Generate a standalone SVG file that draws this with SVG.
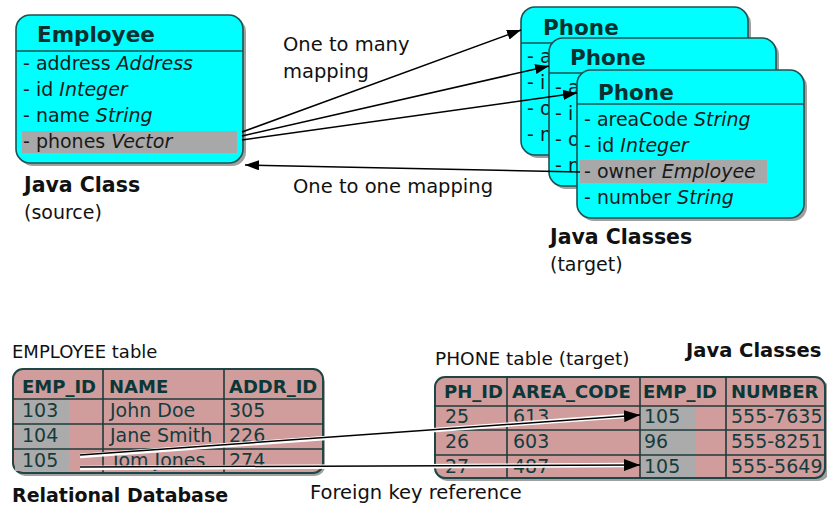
<svg xmlns="http://www.w3.org/2000/svg" width="827" height="508" viewBox="0 0 827 508">
<defs>
<style>
text{font-family:"DejaVu Sans","Liberation Sans",sans-serif;}
.box{fill:#00FFFF;stroke:#1E5252;stroke-width:1.6;}
.shadow{fill:#A0A0A0;}
.hl{fill:#A8A8A8;}
.sep{stroke:#1E5252;stroke-width:1.5;}
.title{font-size:21.5px;font-weight:bold;fill:#0A3030;}
.row{font-size:19px;fill:#1A1A1A;}
.lbl{font-size:19.5px;fill:#111;}
.cap{font-size:20.5px;font-weight:bold;fill:#111;}
.tbl{fill:#D09C9C;stroke:#1E4646;stroke-width:2;}
.grid{stroke:#1E3A3A;stroke-width:1.6;}
.th{font-size:18px;font-weight:bold;fill:#0A3838;}
.td{font-size:19px;fill:#153C3C;}
.gray{fill:#ABABAB;}
.ln{fill:none;stroke:#000;stroke-width:1.5;}
.halo{fill:none;stroke:#fff;stroke-width:4.5;}
</style>
<marker id="ah" viewBox="0 0 14 10" refX="14" refY="5" markerWidth="14" markerHeight="10" markerUnits="userSpaceOnUse" orient="auto">
<path d="M0,0 L14,5 L0,10 z" fill="#000"/>
</marker>
<marker id="ahb" viewBox="0 0 16 12" refX="16" refY="6" markerWidth="16" markerHeight="12" markerUnits="userSpaceOnUse" orient="auto">
<path d="M0,0 L16,6 L0,12 z" fill="#000"/>
</marker>
</defs>
<rect width="827" height="508" fill="#fff"/>

<g id="employee-class">
<rect class="shadow" x="19" y="18" width="227" height="148" rx="14"/>
<rect class="box" x="16" y="15" width="227" height="148" rx="14"/>
<line class="sep" x1="16" y1="51" x2="243" y2="51"/>
<rect class="hl" x="22" y="131" width="215" height="22"/>
<text class="title" x="37" y="42">Employee</text>
<text class="row" x="23" y="70">- address <tspan font-style="italic">Address</tspan></text>
<text class="row" x="23" y="96">- id <tspan font-style="italic">Integer</tspan></text>
<text class="row" x="23" y="122">- name <tspan font-style="italic">String</tspan></text>
<text class="row" x="23" y="148">- phones <tspan font-style="italic">Vector</tspan></text>
</g>
<g id="java-class-label">
<text class="cap" x="24" y="192">Java Class</text>
<text class="lbl" x="24" y="219" style="font-size:19px">(source)</text>
</g>

<g id="phone-class-1">
<rect class="shadow" x="524" y="10" width="227" height="148" rx="14"/>
<rect class="box" x="521" y="7" width="227" height="148" rx="14"/>
<line class="sep" x1="521" y1="43" x2="748" y2="43"/>
<text class="title" x="543" y="35">Phone</text>
<text class="row" x="527" y="63">- a</text>
<text class="row" x="527" y="89">- i</text>
<text class="row" x="527" y="115">- o</text>
<text class="row" x="527" y="141">- n</text>
</g>
<g id="phone-class-2">
<rect class="shadow" x="552" y="41" width="227" height="148" rx="14"/>
<rect class="box" x="549" y="38" width="227" height="148" rx="14"/>
<line class="sep" x1="549" y1="73" x2="776" y2="73"/>
<text class="title" x="570" y="65">Phone</text>
<text class="row" x="555" y="94">- a</text>
<text class="row" x="555" y="120">- i</text>
<text class="row" x="555" y="146">- o</text>
<text class="row" x="555" y="172">- n</text>
</g>
<g id="phone-class-3">
<rect class="shadow" x="580" y="73" width="227" height="148" rx="14"/>
<rect class="box" x="577" y="70" width="227" height="148" rx="14"/>
<line class="sep" x1="577" y1="104" x2="804" y2="104"/>
<rect class="hl" x="580" y="160" width="187" height="23"/>
<text class="title" x="598" y="100">Phone</text>
<text class="row" x="584" y="126">- areaCode <tspan font-style="italic">String</tspan></text>
<text class="row" x="584" y="152">- id <tspan font-style="italic">Integer</tspan></text>
<text class="row" x="584" y="178">- owner <tspan font-style="italic">Employee</tspan></text>
<text class="row" x="584" y="204">- number <tspan font-style="italic">String</tspan></text>
</g>
<g id="java-classes-label">
<text class="cap" x="550" y="244">Java Classes</text>
<text class="lbl" x="550" y="271" style="font-size:19px">(target)</text>
</g>

<g id="mapping-labels">
<text class="lbl" x="283" y="51">One to many</text>
<text class="lbl" x="283" y="78">mapping</text>
<text class="lbl" x="293" y="193">One to one mapping</text>
</g>

<g id="java-classes-label-2">
<text class="cap" x="686" y="357" style="font-size:19.5px">Java Classes</text>
</g>

<g id="employee-table">
<text class="lbl" x="12" y="358" style="font-size:18px">EMPLOYEE table</text>
<rect class="shadow" x="15" y="372" width="310" height="104" rx="10"/>
<rect class="tbl" x="13" y="369" width="310" height="104" rx="10"/>
<rect class="gray" x="15" y="400" width="54" height="71"/>
<line class="grid" x1="103" y1="369" x2="103" y2="473"/>
<line class="grid" x1="224" y1="369" x2="224" y2="473"/>
<line class="grid" x1="13" y1="399" x2="323" y2="399"/>
<line class="grid" x1="13" y1="424" x2="323" y2="424"/>
<line class="grid" x1="13" y1="449" x2="323" y2="449"/>
<text class="th" x="22" y="393">EMP_ID</text>
<text class="th" x="109" y="393">NAME</text>
<text class="th" x="229" y="393">ADDR_ID</text>
<text class="td" x="22" y="417">103</text>
<text class="td" x="110" y="417">John Doe</text>
<text class="td" x="229" y="417">305</text>
<text class="td" x="22" y="442">104</text>
<text class="td" x="110" y="442">Jane Smith</text>
<text class="td" x="229" y="442">226</text>
<text class="td" x="22" y="467">105</text>
<text class="td" x="110" y="467">Tom Jones</text>
<text class="td" x="229" y="467">274</text>
</g>

<g id="phone-table">
<text class="lbl" x="435" y="365" style="font-size:18.5px">PHONE table (target)</text>
<rect class="shadow" x="437" y="380" width="392" height="101" rx="10"/>
<rect class="tbl" x="435" y="377" width="390" height="101" rx="10"/>
<rect class="gray" x="641" y="407" width="54" height="70"/>
<line class="grid" x1="507" y1="377" x2="507" y2="478"/>
<line class="grid" x1="640" y1="377" x2="640" y2="478"/>
<line class="grid" x1="726" y1="377" x2="726" y2="478"/>
<line class="grid" x1="435" y1="406" x2="825" y2="406"/>
<line class="grid" x1="435" y1="430" x2="825" y2="430"/>
<line class="grid" x1="435" y1="455" x2="825" y2="455"/>
<text class="th" x="444" y="398">PH_ID</text>
<text class="th" x="512" y="398">AREA_CODE</text>
<text class="th" x="643" y="398">EMP_ID</text>
<text class="th" x="731" y="398">NUMBER</text>
<text class="td" x="445" y="423">25</text>
<text class="td" x="513" y="423">613</text>
<text class="td" x="644" y="423">105</text>
<text class="td" x="731" y="423">555-7635</text>
<text class="td" x="445" y="448">26</text>
<text class="td" x="513" y="448">603</text>
<text class="td" x="644" y="448">96</text>
<text class="td" x="731" y="448">555-8251</text>
<text class="td" x="445" y="473">27</text>
<text class="td" x="513" y="473">487</text>
<text class="td" x="644" y="473">105</text>
<text class="td" x="731" y="473">555-5649</text>
</g>

<g id="bottom-labels">
<text class="cap" x="12" y="502" style="font-size:19px">Relational Database</text>
<text class="lbl" x="310" y="499">Foreign key reference</text>
</g>

<g id="connectors">
<line class="ln" x1="242" y1="132" x2="521" y2="30" marker-end="url(#ah)"/>
<line class="ln" x1="242" y1="136" x2="549" y2="66" marker-end="url(#ah)"/>
<line class="ln" x1="242" y1="140" x2="577" y2="93" marker-end="url(#ah)"/>
<line class="ln" x1="580" y1="172" x2="245" y2="165" marker-end="url(#ah)"/>
<line class="halo" x1="80" y1="456" x2="624" y2="416"/>
<line class="halo" x1="80" y1="468" x2="624" y2="465"/>
<line class="ln" x1="80" y1="455" x2="640" y2="415" marker-end="url(#ahb)"/>
<line class="ln" x1="80" y1="467" x2="640" y2="465" marker-end="url(#ahb)"/>
</g>
</svg>
